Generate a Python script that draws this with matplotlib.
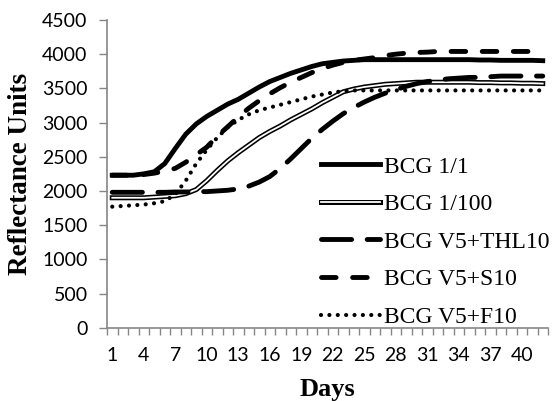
import matplotlib
matplotlib.use("Agg")
import matplotlib.pyplot as plt
import matplotlib.patheffects as pe
import numpy as np

days = np.arange(1, 43)

bcg_1_1 = [2230, 2230, 2230, 2250, 2280, 2400, 2620, 2830, 2980, 3090,
           3180, 3270, 3340, 3430, 3520, 3600, 3660, 3720, 3770, 3820,
           3860, 3880, 3900, 3910, 3920, 3920, 3920, 3920, 3920, 3920,
           3920, 3920, 3920, 3920, 3920, 3915, 3915, 3910, 3910, 3910,
           3910, 3905]
bcg_1_100 = [1900, 1900, 1900, 1900, 1910, 1920, 1930, 1960, 2020, 2150,
             2300, 2440, 2560, 2670, 2780, 2870, 2950, 3040, 3120, 3200,
             3290, 3370, 3450, 3490, 3520, 3540, 3560, 3570, 3580, 3590,
             3590, 3590, 3590, 3590, 3590, 3585, 3585, 3580, 3580, 3575,
             3575, 3570]
bcg_thl10 = [1980, 1980, 1980, 1980, 1980, 1980, 1985, 1985, 1990, 1990,
             2000, 2010, 2030, 2070, 2130, 2210, 2330, 2470, 2620, 2770,
             2900, 3020, 3130, 3220, 3300, 3370, 3430, 3480, 3530, 3570,
             3600, 3620, 3640, 3650, 3660, 3660, 3670, 3680, 3680, 3680,
             3680, 3680]
bcg_s10 = [2230, 2230, 2230, 2240, 2260, 2290, 2330, 2420, 2530, 2640,
           2800, 2940, 3080, 3210, 3320, 3420, 3510, 3590, 3660, 3730,
           3790, 3840, 3880, 3910, 3930, 3950, 3980, 4000, 4015, 4025,
           4030, 4040, 4040, 4040, 4040, 4040, 4040, 4040, 4040, 4040,
           4040, 4040]
bcg_f10 = [1770, 1780, 1790, 1800, 1820, 1850, 1950, 2150, 2400, 2600,
           2780, 2930, 3040, 3120, 3180, 3220, 3260, 3300, 3340, 3380,
           3410, 3440, 3460, 3470, 3470, 3470, 3470, 3470, 3470, 3470,
           3470, 3470, 3470, 3470, 3470, 3470, 3470, 3470, 3470, 3470,
           3470, 3470]

serif = "Liberation Serif"
grey = "#868686"

fig = plt.figure(figsize=(5.58, 4.01), dpi=100)
ax = fig.add_axes([107 / 558, 1 - 327.7 / 401, 441 / 558, 307.7 / 401])

ax.plot(days, bcg_1_1, color="black", lw=3.5, label="BCG 1/1")
ax.plot(days, bcg_1_100, color="white", lw=1.3, label="BCG 1/100",
        path_effects=[pe.Stroke(linewidth=3.6, foreground="black"), pe.Normal()])
ax.plot(days, bcg_thl10, color="black", lw=3.5, dashes=(6.2, 3.2),
        dash_capstyle="round", label="BCG V5+THL10")
ax.plot(days, bcg_s10, color="black", lw=3.5, dashes=(3.0, 3.4),
        dash_capstyle="round", label="BCG V5+S10")
ax.plot(days, bcg_f10, color="black", lw=3.0, dashes=(0.01, 2.0),
        dash_capstyle="round", label="BCG V5+F10")

ax.set_xlim(0.5, 42.5)
ax.set_ylim(0, 4500)
ax.set_yticks(np.arange(0, 4501, 500))
ax.set_xticks(np.arange(1, 43, 3))
ax.set_xticks(np.arange(0.5, 43, 1), minor=True)

for s in ["top", "right"]:
    ax.spines[s].set_visible(False)
for s in ["left", "bottom"]:
    ax.spines[s].set_color(grey)
    ax.spines[s].set_linewidth(1.2)

ax.tick_params(axis="x", which="major", length=0, pad=14, labelsize=14)
ax.tick_params(axis="x", which="minor", length=5, color=grey, width=1)
ax.tick_params(axis="y", length=6, color=grey, width=1, pad=8, labelsize=14)
for lab in ax.get_xticklabels() + ax.get_yticklabels():
    lab.set_fontfamily("Lato")

ax.set_xlabel("Days", fontfamily=serif, fontweight="bold", fontsize=19)
ax.xaxis.set_label_coords(0.5, -0.165)
ax.set_ylabel("Reflectance Units", fontfamily=serif, fontweight="bold", fontsize=19.5)
ax.yaxis.set_label_coords(-0.168, 0.5)

ax.legend(loc="upper left", bbox_to_anchor=(214 / 441, 1 - 136 / 307.7),
          frameon=False, prop={"family": serif, "size": 17},
          handlelength=2.5, handletextpad=0.15, labelspacing=0.68,
          borderaxespad=0, borderpad=0)

fig.savefig("out.png", dpi=100)
